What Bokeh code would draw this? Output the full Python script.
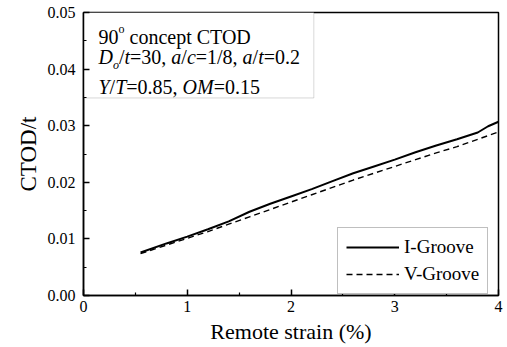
import math
from bokeh.plotting import figure
from bokeh.models import Range1d, FixedTicker, PrintfTickFormatter, BoxAnnotation, Label
from bokeh.embed import file_html
from bokeh.resources import INLINE

# ---- data ----
strain_i = [0.55, 0.8, 1.0, 1.2, 1.4, 1.6, 1.8, 2.0, 2.2, 2.4, 2.6, 2.8, 3.0, 3.2, 3.4, 3.6, 3.8, 3.9, 4.0]
ctod_i = [0.0076, 0.0092, 0.0104, 0.0117, 0.0131, 0.0148, 0.0162, 0.0175, 0.0188, 0.0202, 0.0216,
          0.0228, 0.0240, 0.0253, 0.0265, 0.0276, 0.0288, 0.0299, 0.0307]
strain_v = [0.55, 0.8, 1.0, 1.2, 1.4, 1.6, 1.8, 2.0, 2.2, 2.4, 2.6, 2.8, 3.0, 3.2, 3.4, 3.6, 3.8, 4.0]
ctod_v = [0.0074, 0.0089, 0.0101, 0.0113, 0.0126, 0.0139, 0.0152, 0.0165, 0.0178, 0.0191, 0.0204,
          0.0216, 0.0228, 0.0240, 0.0252, 0.0263, 0.0276, 0.0289]
x_ticks = [0, 1, 2, 3, 4]
x_minor = [0.5, 1.5, 2.5, 3.5]
y_ticks = [0.0, 0.01, 0.02, 0.03, 0.04, 0.05]
y_minor = [0.005, 0.015, 0.025, 0.035, 0.045]
series_names = ["I-Groove", "V-Groove"]
x_label = "Remote strain (%)"
y_label = "CTOD/t"

FONT = "Liberation Serif"

p = figure(width=507, height=347, output_backend="svg", toolbar_location=None,
           x_range=Range1d(0, 4), y_range=Range1d(0, 0.05),
           min_border_left=83, min_border_right=9, min_border_top=12, min_border_bottom=52)
p.grid.visible = False
p.outline_line_color = "black"
p.outline_line_width = 1.5
p.background_fill_color = "white"
p.border_fill_color = "white"

p.line(strain_i, ctod_i, line_color="black", line_width=2, legend_label=series_names[0])
p.line(strain_v, ctod_v, line_color="black", line_width=1.4, line_dash="6 4",
       legend_label=series_names[1])

xa = p.xaxis[0]
ya = p.yaxis[0]
for ax in (xa, ya):
    ax.axis_line_color = "black"
    ax.axis_line_width = 1.5
    ax.major_tick_in = 6
    ax.major_tick_out = 0
    ax.minor_tick_in = 3
    ax.minor_tick_out = 0
    ax.major_tick_line_width = 1.5
    ax.minor_tick_line_width = 1.2
    ax.major_label_text_font = FONT
    ax.major_label_text_font_size = "16px"
    ax.major_label_text_color = "black"
    ax.axis_label_text_font = FONT
    ax.axis_label_text_font_style = "normal"
    ax.axis_label_text_color = "black"

xa.ticker = FixedTicker(ticks=x_ticks, minor_ticks=x_minor)
ya.ticker = FixedTicker(ticks=y_ticks, minor_ticks=y_minor)
ya.formatter = PrintfTickFormatter(format="%.2f")
xa.major_label_standoff = 5
ya.major_label_standoff = 8
xa.axis_label = x_label
xa.axis_label_text_font_size = "22px"
xa.axis_label_standoff = 4
ya.axis_label = y_label
ya.axis_label_text_font_size = "23px"
ya.axis_label_standoff = 4

# annotation box
p.add_layout(BoxAnnotation(left=0, right=2.22, top=0.05, bottom=0.0349,
                           fill_color="white", fill_alpha=1.0,
                           line_color="#7f7f7f", line_width=1, level="underlay"))

F = 20
REG = {' ': 250, '.': 250, ',': 250, '=': 564, '/': 278, 'c': 444, 'o': 500, 'n': 500,
       'e': 444, 'p': 500, 't': 278, 'C': 667, 'T': 611, 'O': 722, 'D': 722}
ITA = {'D': 722, 't': 278, 'a': 500, 'c': 444, 'Y': 556, 'T': 556, 'O': 722, 'M': 833, 'o': 500}


def width(s, italic, size):
    tab = ITA if italic else REG
    return sum((500 if ch.isdigit() else tab.get(ch, 500)) for ch in s) / 1000.0 * size


lines = [
    (24.7, [("90", False, 0), ("o", False, 1), (" concept CTOD", False, 0)]),
    (44.7, [("D", True, 0), ("o", True, -1), ("/", False, 0), ("t", True, 0), ("=30, ", False, 0),
            ("a", True, 0), ("/", False, 0), ("c", True, 0), ("=1/8, ", False, 0),
            ("a", True, 0), ("/", False, 0), ("t", True, 0), ("=0.2", False, 0)]),
    (74.0, [("Y", True, 0), ("/", False, 0), ("T", True, 0), ("=0.85, ", False, 0),
            ("OM", True, 0), ("=0.15", False, 0)]),
]
for base, segs in lines:
    cx = 15.0
    for txt, ital, pos in segs:
        size = F if pos == 0 else 12
        dy = 0 if pos == 0 else (8 if pos > 0 else -8)
        lead = len(txt) - len(txt.lstrip(' '))
        start = cx + width(' ' * lead, ital, size)
        p.add_layout(Label(x=0, y=0.05, x_offset=start, y_offset=-base + dy, text=txt.strip(' '),
                           text_font=FONT, text_font_size=f"{size}px",
                           text_font_style="italic" if ital else "normal",
                           text_baseline="alphabetic", text_align="left", text_color="black"))
        cx += width(txt, ital, size)

lg = p.legend[0]
lg.location = (254, 1)
lg.label_text_font = FONT
lg.label_text_font_size = "19px"
lg.label_text_color = "black"
lg.glyph_width = 53
lg.glyph_height = 20
lg.label_height = 20
lg.label_standoff = 5
lg.padding = 8
lg.spacing = 5
lg.margin = 0
lg.border_line_color = "#7f7f7f"
lg.border_line_width = 1
lg.background_fill_alpha = 1.0

open("out.html", "w").write(file_html(p, INLINE))
